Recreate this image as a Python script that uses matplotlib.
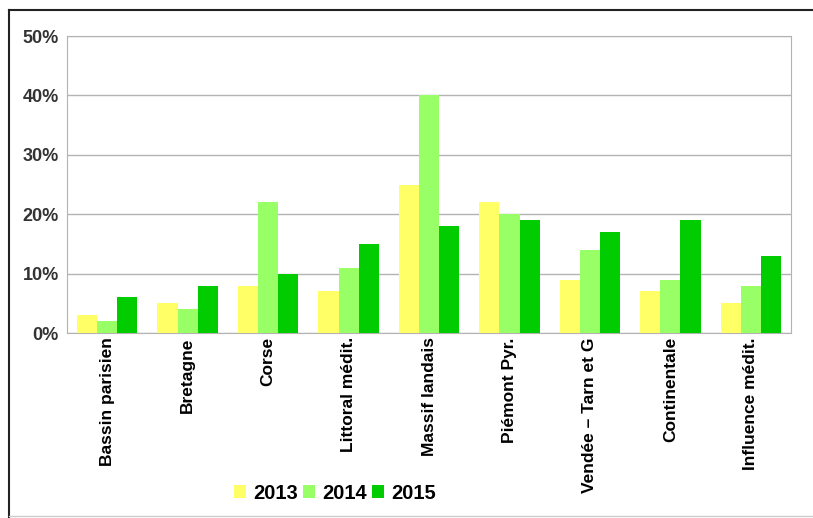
import numpy as np
import matplotlib.pyplot as plt
from matplotlib.lines import Line2D
from matplotlib.ticker import FuncFormatter

# donnees
regions = ['Bassin parisien', 'Bretagne', 'Corse', 'Littoral médit.', 'Massif landais',
           'Piémont Pyr.', 'Vendée – Tarn et G', 'Continentale', 'Influence médit.']
v2013 = [3, 5, 8, 7, 25, 22, 9, 7, 5]
v2014 = [2, 4, 22, 11, 40, 20, 14, 9, 8]
v2015 = [6, 8, 10, 15, 18, 19, 17, 19, 13]
annees = ['2013', '2014', '2015']
couleurs = ['#ffff66', '#99ff66', '#00cc00']

plt.rcParams['font.family'] = ['Liberation Sans', 'DejaVu Sans']

fig = plt.figure(figsize=(8.13, 5.18), dpi=100)
ax = fig.add_axes([0.0824, 0.357, 0.8906, 0.5735])

x = np.arange(len(regions))
w = 0.25
for i, vals in enumerate([v2013, v2014, v2015]):
    ax.bar(x + (i - 1) * w, vals, width=w, color=couleurs[i], label=annees[i], zorder=3)

ax.set_xlim(-0.5, len(regions) - 0.5)
ax.set_ylim(0, 50)
ax.set_yticks(range(0, 51, 10))
ax.yaxis.set_major_formatter(FuncFormatter(lambda v, p: '%d%%' % v))
ax.grid(axis='y', color='#b3b3b3', lw=1, zorder=0)
for s in ax.spines.values():
    s.set_color('#b3b3b3')

ax.set_xticks(x)
ax.set_xticklabels(regions, rotation=90, fontsize=12.5, fontweight='bold', va='top')
ax.tick_params(axis='both', length=0)
ax.tick_params(axis='x', pad=3)
ax.tick_params(axis='y', pad=6)
for t in ax.get_yticklabels():
    t.set_fontsize(13)
    t.set_fontweight('bold')
    t.set_color('#333333')

fig.legend(loc='center', bbox_to_anchor=(0.412, 0.048), ncol=3, frameon=False,
           handlelength=0.6, handleheight=0.6, handletextpad=0.35, columnspacing=0.25,
           prop={'weight': 'bold', 'size': 14.5})

# cadre autour du graphique
fig.add_artist(Line2D([9/813, 9/813], [0, 1 - 10/518], color='#222222', lw=1.5, transform=fig.transFigure))
fig.add_artist(Line2D([9/813, 1], [1 - 10/518, 1 - 10/518], color='#222222', lw=1.5, transform=fig.transFigure))
fig.add_artist(Line2D([9/813, 1], [2/518, 2/518], color='#cccccc', lw=1, transform=fig.transFigure))

plt.savefig('out.png', dpi=100)
